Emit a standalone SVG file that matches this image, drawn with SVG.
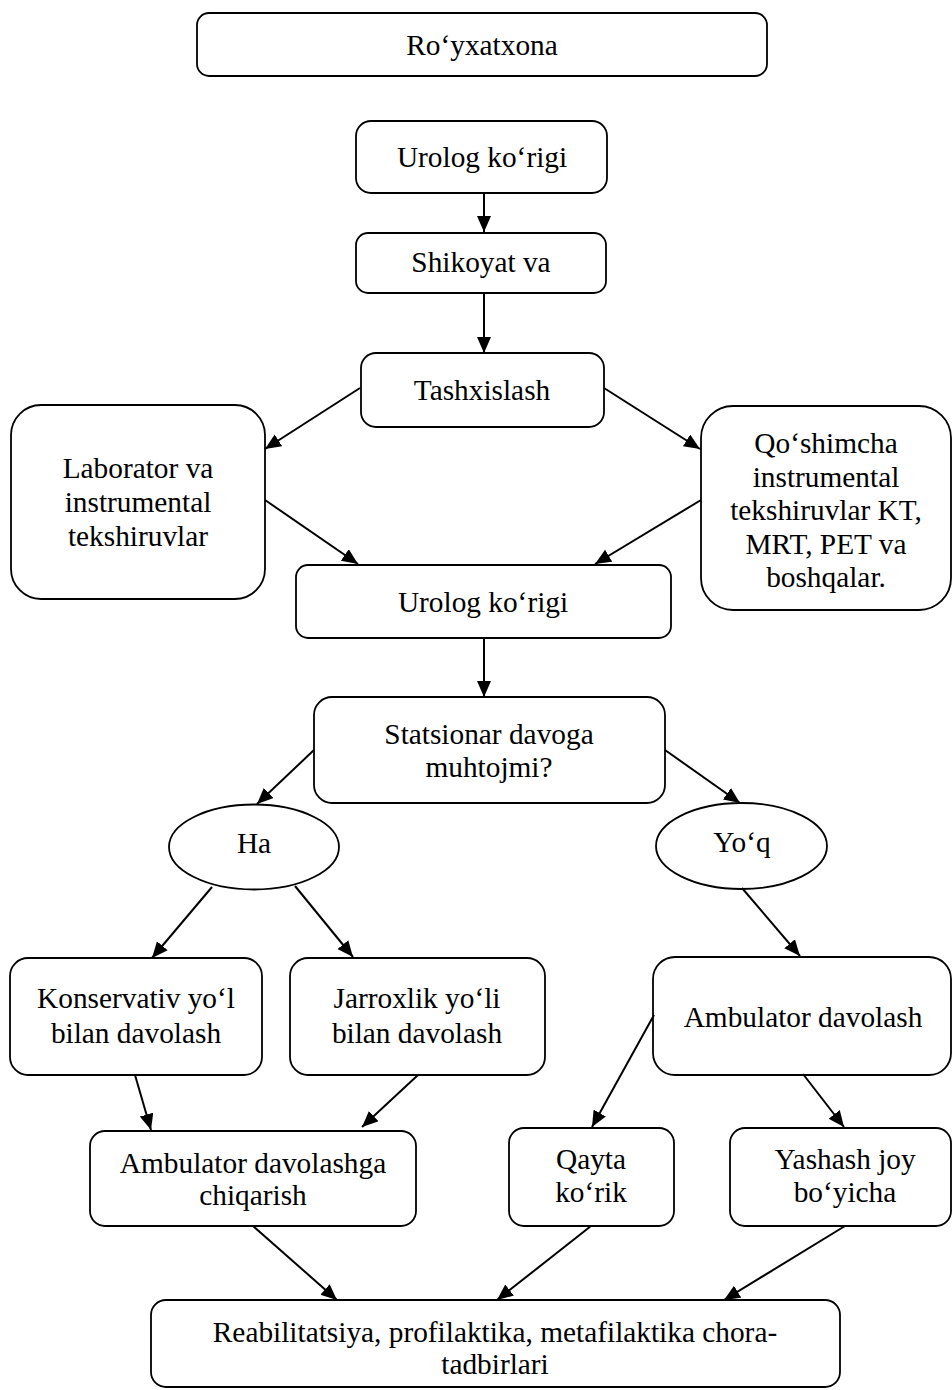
<svg xmlns="http://www.w3.org/2000/svg" width="952" height="1390" viewBox="0 0 952 1390">
<defs>
<style>
.b{fill:#fff;stroke:#000;stroke-width:1.8}
.t{font-family:"Liberation Serif","Times New Roman",serif;font-size:29.33px;fill:#000;text-anchor:middle}
.c line{stroke:#000;stroke-width:2;marker-end:url(#ah)}
</style>
<marker id="ah" markerUnits="userSpaceOnUse" markerWidth="17" markerHeight="15" refX="16" refY="7" orient="auto">
<path d="M0,0 L16,7 L0,14 z" fill="#000"/>
</marker>
</defs>
<rect width="952" height="1390" fill="#fff"/>
<g id="n-royxatxona"><rect class="b" x="197" y="13" width="570" height="63" rx="12"/><text class="t" x="482" y="55">Ro‘yxatxona</text></g>
<g id="n-urolog1"><rect class="b" x="356" y="121" width="251" height="72" rx="15"/><text class="t" x="482" y="167">Urolog ko‘rigi</text></g>
<g id="n-shikoyat"><rect class="b" x="356" y="233" width="250" height="60" rx="12"/><text class="t" x="481" y="272">Shikoyat va</text></g>
<g id="n-tashxis"><rect class="b" x="361" y="353" width="243" height="74" rx="15"/><text class="t" x="482" y="400">Tashxislash</text></g>
<g id="n-laborator"><rect class="b" x="11" y="405" width="254" height="194" rx="30"/><text class="t" x="138"><tspan x="138" y="478">Laborator va</tspan><tspan x="138" y="512">instrumental</tspan><tspan x="138" y="546">tekshiruvlar</tspan></text></g>
<g id="n-qoshimcha"><rect class="b" x="701" y="406" width="250" height="204" rx="32"/><text class="t" x="826"><tspan x="826" y="453">Qo‘shimcha</tspan><tspan x="826" y="487">instrumental</tspan><tspan x="826" y="520">tekshiruvlar KT,</tspan><tspan x="826" y="554">MRT, PET va</tspan><tspan x="826" y="587">boshqalar.</tspan></text></g>
<g id="n-urolog2"><rect class="b" x="296" y="565" width="375" height="73" rx="12"/><text class="t" x="483" y="612">Urolog ko‘rigi</text></g>
<g id="n-statsionar"><rect class="b" x="314" y="697" width="351" height="106" rx="18"/><text class="t" x="489"><tspan x="489" y="744">Statsionar davoga</tspan><tspan x="489" y="777">muhtojmi?</tspan></text></g>
<g id="n-ha"><ellipse class="b" cx="254" cy="847" rx="85" ry="42.5"/><text class="t" x="254" y="853">Ha</text></g>
<g id="n-yoq"><ellipse class="b" cx="741.5" cy="846" rx="85.5" ry="43"/><text class="t" x="742" y="852">Yo‘q</text></g>
<g id="n-konservativ"><rect class="b" x="10" y="958" width="252" height="117" rx="18"/><text class="t" x="136"><tspan x="136" y="1008">Konservativ yo‘l</tspan><tspan x="136" y="1043">bilan davolash</tspan></text></g>
<g id="n-jarroxlik"><rect class="b" x="290" y="958" width="255" height="117" rx="18"/><text class="t" x="417"><tspan x="417" y="1008">Jarroxlik yo‘li</tspan><tspan x="417" y="1043">bilan davolash</tspan></text></g>
<g id="n-ambulator"><rect class="b" x="653" y="957" width="298" height="118" rx="22"/><text class="t" x="803" y="1027">Ambulator davolash</text></g>
<g id="n-chiqarish"><rect class="b" x="90" y="1131" width="326" height="95" rx="15"/><text class="t" x="253"><tspan x="253" y="1173">Ambulator davolashga</tspan><tspan x="253" y="1205">chiqarish</tspan></text></g>
<g id="n-qayta"><rect class="b" x="509" y="1128" width="165" height="98" rx="15"/><text class="t" x="591"><tspan x="591" y="1169">Qayta</tspan><tspan x="591" y="1202">ko‘rik</tspan></text></g>
<g id="n-yashash"><rect class="b" x="730" y="1128" width="221" height="98" rx="15"/><text class="t" x="845"><tspan x="845" y="1169">Yashash joy</tspan><tspan x="845" y="1202">bo‘yicha</tspan></text></g>
<g id="n-reab"><rect class="b" x="151" y="1300" width="689" height="87" rx="15"/><text class="t" x="495"><tspan x="495" y="1342">Reabilitatsiya, profilaktika, metafilaktika chora-</tspan><tspan x="495" y="1374">tadbirlari</tspan></text></g>
<g id="connectors" class="c">
<line x1="484" y1="193" x2="484" y2="232"/>
<line x1="484" y1="293" x2="484" y2="353"/>
<line x1="360" y1="388" x2="265" y2="449"/>
<line x1="604" y1="388" x2="700" y2="449"/>
<line x1="265" y1="500" x2="358" y2="564"/>
<line x1="701" y1="500" x2="595" y2="564"/>
<line x1="484" y1="638" x2="484" y2="697"/>
<line x1="314" y1="750" x2="257" y2="804"/>
<line x1="665" y1="750" x2="740" y2="803"/>
<line x1="212" y1="887" x2="152" y2="958"/>
<line x1="295" y1="886" x2="353" y2="957"/>
<line x1="742" y1="888" x2="800" y2="956"/>
<line x1="654" y1="1015" x2="592" y2="1127"/>
<line x1="803" y1="1074" x2="844" y2="1127"/>
<line x1="135" y1="1075" x2="151" y2="1130"/>
<line x1="418" y1="1075" x2="362" y2="1127"/>
<line x1="253" y1="1226" x2="337" y2="1300"/>
<line x1="591" y1="1226" x2="497" y2="1300"/>
<line x1="845" y1="1226" x2="724" y2="1300"/>
</g>
</svg>
